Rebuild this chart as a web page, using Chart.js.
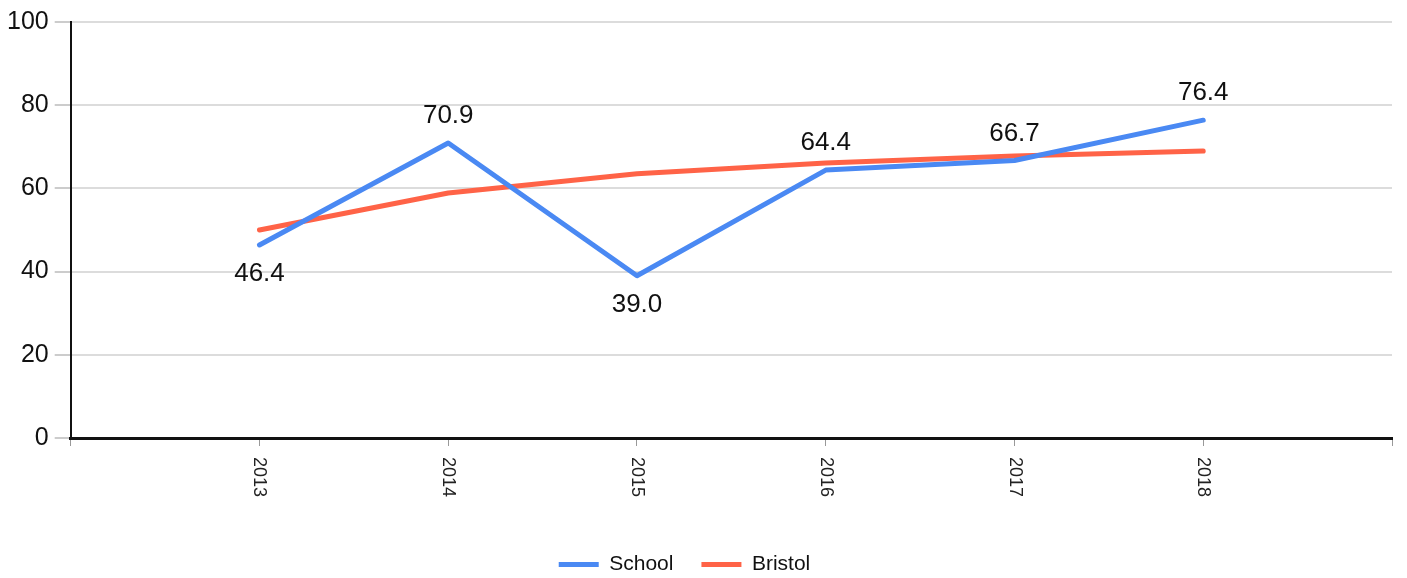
<!DOCTYPE html>
<html>
<head>
<meta charset="utf-8">
<script src="https://cdn.jsdelivr.net/npm/chart.js@4"></script>
<style>
  html, body { margin: 0; padding: 0; background: #fff; }
  #wrap { width: 1407px; height: 578px; }
</style>
</head>
<body>
<div id="wrap"><canvas id="chart"></canvas></div>
<script>
// --- Data ---
const years = [2013, 2014, 2015, 2016, 2017, 2018];
const schoolValues = [46.4, 70.9, 39.0, 64.4, 66.7, 76.4];
const bristolValues = [50.0, 58.9, 63.5, 66.1, 67.8, 69.0];
const yTicks = [0, 20, 40, 60, 80, 100];

const blue = '#4a89f3';
const red = '#ff6347';
const font = 'Arial, "Liberation Sans", sans-serif';

const toPoints = vals => years.map((y, i) => ({ x: y, y: vals[i] }));

// year labels read top-to-bottom (rotated clockwise), so they are drawn here
const yearLabels = {
    id: 'yearLabels',
    afterLayout(chart) {
        // legend sits a little left of centre in the original
        chart.legend.left -= 12;
        chart.legend.right -= 12;
    },
    afterDraw(chart) {
        const { ctx, scales: { x }, chartArea } = chart;
        ctx.save();
        ctx.fillStyle = '#222';
        ctx.font = '18px ' + font;
        ctx.textAlign = 'left';
        ctx.textBaseline = 'middle';
        years.forEach(yr => {
            ctx.save();
            ctx.translate(x.getPixelForValue(yr), chartArea.bottom + 19);
            ctx.rotate(Math.PI / 2);
            ctx.fillText(String(yr), 0, 0);
            ctx.restore();
        });
        ctx.restore();
    }
};

// value labels on the School line, below the dips, above the rest
const valueLabels = {
    id: 'valueLabels',
    afterDatasetsDraw(chart) {
        const { ctx } = chart;
        const meta = chart.getDatasetMeta(0);
        ctx.save();
        ctx.fillStyle = '#111';
        ctx.font = '26px ' + font;
        ctx.textAlign = 'center';
        ctx.textBaseline = 'middle';
        meta.data.forEach((pt, i) => {
            const v = schoolValues[i];
            const prev = i > 0 ? schoolValues[i - 1] : Infinity;
            const next = i < schoolValues.length - 1 ? schoolValues[i + 1] : Infinity;
            const below = v < prev && v < next;
            ctx.fillText(v.toFixed(1), pt.x, below ? pt.y + 29 : pt.y - 27);
        });
        ctx.restore();
    }
};

new Chart(document.getElementById('chart'), {
    type: 'line',
    data: {
        datasets: [
            {
                label: 'School',
                data: toPoints(schoolValues),
                borderColor: blue,
                backgroundColor: blue,
                borderWidth: 5,
                pointRadius: 0,
                borderCapStyle: 'round',
                borderJoinStyle: 'round'
            },
            {
                label: 'Bristol',
                data: toPoints(bristolValues),
                borderColor: red,
                backgroundColor: red,
                borderWidth: 5,
                pointRadius: 0,
                borderCapStyle: 'round',
                borderJoinStyle: 'round'
            }
        ]
    },
    options: {
        responsive: true,
        maintainAspectRatio: false,
        animation: false,
        layout: { padding: { top: 22, right: 15, left: 1, bottom: -7 } },
        scales: {
            x: {
                type: 'linear',
                min: years[0] - 1,
                max: years[years.length - 1] + 1,
                ticks: { display: false, stepSize: 1 },
                afterFit: axis => { axis.height = 88; },
                grid: { drawOnChartArea: false, tickLength: 8, tickColor: '#999', tickWidth: 1 },
                border: { color: '#111', width: 3 }
            },
            y: {
                min: yTicks[0],
                max: yTicks[yTicks.length - 1],
                afterBuildTicks: axis => { axis.ticks = yTicks.map(v => ({ value: v })); },
                ticks: { color: '#111', font: { size: 25, family: font }, padding: 6 },
                grid: { color: '#dcdcdc', lineWidth: 2, tickLength: 16, tickColor: '#999', tickWidth: 1 },
                border: { color: '#111', width: 2 }
            }
        },
        plugins: {
            legend: {
                position: 'bottom',
                labels: {
                    color: '#111',
                    font: { size: 21, family: font },
                    boxWidth: 40,
                    boxHeight: 5,
                    padding: 28,
                    generateLabels: chart => Chart.defaults.plugins.legend.labels.generateLabels(chart)
                        .map(item => Object.assign(item, { lineWidth: 0 }))
                }
            },
            tooltip: { enabled: false }
        }
    },
    plugins: [yearLabels, valueLabels]
});
</script>
</body>
</html>
